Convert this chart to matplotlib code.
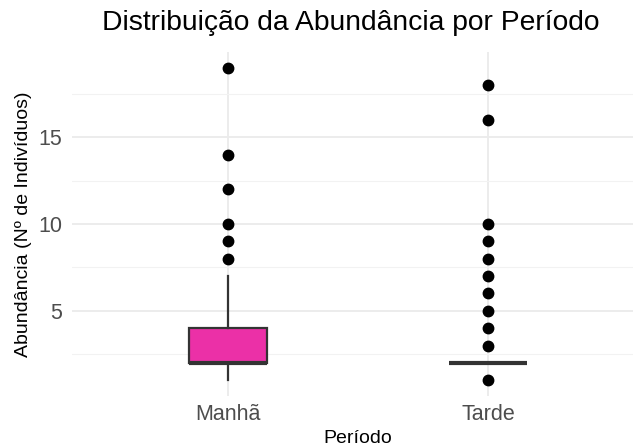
import numpy as np
import matplotlib.pyplot as plt

plt.rcParams['font.family'] = ['Liberation Sans', 'DejaVu Sans']

# resumo dos boxplots
periodos = ["Manhã", "Tarde"]
q1 = [2, 2]
mediana = [2, 2]
q3 = [4, 2]
bigode_inf = [1, 2]
bigode_sup = [7, 2]
outliers_manha = [8, 9, 10, 12, 14, 19]
outliers_tarde = [1, 3, 4, 5, 6, 7, 8, 9, 10, 16, 18]

fig = plt.figure(figsize=(6.33, 4.48), dpi=100)
ax = fig.add_axes([72/633, 1 - 396/448, (644 - 72)/633, (396 - 52)/448])

stats = []
for i, nome in enumerate(periodos):
    stats.append(dict(label=nome, q1=q1[i], med=mediana[i], q3=q3[i],
                      whislo=bigode_inf[i], whishi=bigode_sup[i], fliers=[]))

pos = np.arange(1, len(periodos) + 1)
ax.bxp(stats, positions=pos, widths=0.3, patch_artist=True, showcaps=False,
       showfliers=False,
       boxprops=dict(facecolor="#EB30A7", edgecolor="#333333", linewidth=1.6),
       medianprops=dict(color="#333333", linewidth=3.0, solid_capstyle="butt"),
       whiskerprops=dict(color="#333333", linewidth=1.6),
       zorder=3)

for p, pts in zip(pos, [outliers_manha, outliers_tarde]):
    ax.plot([p] * len(pts), pts, "o", color="black", markersize=7.5, zorder=4)

ax.set_xlim(0.4, 2.6)
ax.set_ylim(0.1, 19.9)
ax.set_yticks([5, 10, 15])
ax.set_yticks([2.5, 7.5, 12.5, 17.5], minor=True)
ax.set_xticks(pos)
ax.set_xticklabels(periodos)

ax.grid(True, which="major", color="#EBEBEB", linewidth=1.3, zorder=0)
ax.grid(True, which="minor", axis="y", color="#F2F2F2", linewidth=0.8, zorder=0)
ax.set_axisbelow(True)
for s in ax.spines.values():
    s.set_visible(False)
ax.tick_params(which="both", length=0)
ax.tick_params(axis="both", labelsize=15.5, labelcolor="#4D4D4D")
ax.tick_params(axis="x", pad=6)
ax.tick_params(axis="y", pad=7)

ax.set_xlabel("Período", fontsize=14, va="center")
ax.xaxis.set_label_coords(0.5, -0.124)
ax.set_ylabel("Abundância (Nº de Indivíduos)", fontsize=14, va="center")
ax.yaxis.set_label_coords(-0.084, 0.5)
fig.text(351 / 633, 1 - 23 / 448, "Distribuição da Abundância por Período",
         fontsize=20.3, ha="center", va="center")

fig.savefig("out.png", dpi=100)
